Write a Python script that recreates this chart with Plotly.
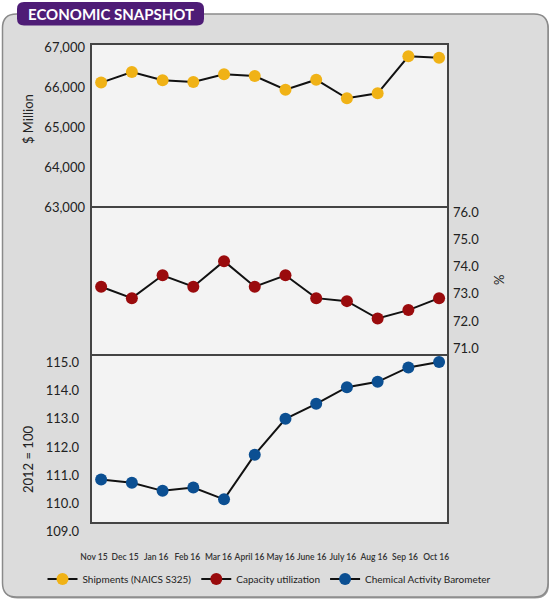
import plotly.graph_objects as go

W, H = 550, 601

months = ["Nov 15", "Dec 15", "Jan 16", "Feb 16", "Mar 16", "April 16",
          "May 16", "June 16", "July 16", "Aug 16", "Sep 16", "Oct 16"]
shipments = [66110, 66375, 66167, 66125, 66317, 66275,
             65933, 66183, 65717, 65842, 66767, 66733]
capacity = [73.26, 72.84, 73.68, 73.26, 74.20, 73.26,
            73.68, 72.84, 72.73, 72.09, 72.40, 72.84]
cab = [110.85, 110.74, 110.45, 110.57, 110.15, 111.73,
       113.00, 113.53, 114.12, 114.31, 114.82, 115.01]

ship_ticks = [63000, 64000, 65000, 66000, 67000]
cap_ticks = [71, 72, 73, 74, 75, 76]
cab_ticks = [109, 110, 111, 112, 113, 114, 115]

FONT = "Lato, 'Open Sans', sans-serif"


def px(x):
    return x / W


def py(y):
    return 1 - y / H


def rounded_path(x0, y0, x1, y1, r):
    pts = [
        f"M{px(x0 + r)},{py(y0)}",
        f"L{px(x1 - r)},{py(y0)}",
        f"Q{px(x1)},{py(y0)} {px(x1)},{py(y0 + r)}",
        f"L{px(x1)},{py(y1 - r)}",
        f"Q{px(x1)},{py(y1)} {px(x1 - r)},{py(y1)}",
        f"L{px(x0 + r)},{py(y1)}",
        f"Q{px(x0)},{py(y1)} {px(x0)},{py(y1 - r)}",
        f"L{px(x0)},{py(y0 + r)}",
        f"Q{px(x0)},{py(y0)} {px(x0 + r)},{py(y0)}",
        "Z",
    ]
    return " ".join(pts)


fig = go.Figure()

fig.add_trace(go.Scatter(
    x=months, y=shipments, mode="lines+markers", name="Shipments (NAICS S325)",
    line=dict(color="#111111", width=2),
    marker=dict(color="#F0B216", size=12, line=dict(width=0)),
    xaxis="x", yaxis="y", cliponaxis=False))
fig.add_trace(go.Scatter(
    x=months, y=capacity, mode="lines+markers", name="Capacity utilization",
    line=dict(color="#111111", width=2),
    marker=dict(color="#9A0B0D", size=12, line=dict(width=0)),
    xaxis="x", yaxis="y2", cliponaxis=False))
fig.add_trace(go.Scatter(
    x=months, y=cab, mode="lines+markers", name="Chemical Activity Barometer",
    line=dict(color="#111111", width=2),
    marker=dict(color="#0B4F92", size=12, line=dict(width=0)),
    xaxis="x", yaxis="y3", cliponaxis=False))
# carrier trace for the month-label axis
fig.add_trace(go.Scatter(
    x=months, y=[None] * len(months), mode="markers", showlegend=False,
    hoverinfo="skip", xaxis="x2", yaxis="y3"))

XL, XR = 91, 448
TOP, MID1, MID2, BOT = 44, 207, 355, 523

shapes = [
    # soft shadow of the outer box
    dict(type="path", path=rounded_path(3.5, 15.5, 549, 598.5, 14), xref="paper", yref="paper",
         fillcolor="#9A9A9A", line=dict(width=0), layer="below"),
    # outer rounded box
    dict(type="path", path=rounded_path(2.5, 14, 548, 597, 14), xref="paper", yref="paper",
         fillcolor="#DCDCDC", line=dict(color="#8A8A8A", width=1.5), layer="below"),
    # panel fill + frames
    dict(type="rect", xref="paper", yref="paper", x0=px(XL), x1=px(XR), y0=py(BOT), y1=py(TOP),
         fillcolor="#F3F3F3", line=dict(color="#444444", width=2), layer="below"),
    dict(type="line", xref="paper", yref="paper", x0=px(XL), x1=px(XR), y0=py(MID1), y1=py(MID1),
         line=dict(color="#444444", width=2), layer="below"),
    dict(type="line", xref="paper", yref="paper", x0=px(XL), x1=px(XR), y0=py(MID2), y1=py(MID2),
         line=dict(color="#444444", width=2), layer="below"),
    # header tab
    dict(type="path", path=rounded_path(17, 2, 204, 25.5, 7), xref="paper", yref="paper",
         fillcolor="#4E1C76", line=dict(width=0), layer="above"),
]

annotations = [
    dict(text="<b>ECONOMIC SNAPSHOT</b>", x=px(110.5), y=py(14), xref="paper", yref="paper",
         showarrow=False, font=dict(family=FONT, size=15, color="white"),
         xanchor="center", yanchor="middle"),
    dict(text="$ Million", x=px(28), y=py(119), xref="paper", yref="paper", showarrow=False,
         textangle=-90, font=dict(family=FONT, size=13, color="#222222"),
         xanchor="center", yanchor="middle"),
    dict(text="2012 = 100", x=px(28), y=py(460), xref="paper", yref="paper", showarrow=False,
         textangle=-90, font=dict(family=FONT, size=13, color="#222222"),
         xanchor="center", yanchor="middle"),
    dict(text="%", x=px(499), y=py(280), xref="paper", yref="paper", showarrow=False,
         textangle=-90, font=dict(family=FONT, size=13, color="#222222"),
         xanchor="center", yanchor="middle"),
]

tickfont = dict(family=FONT, size=13, color="#222222")
common_y = dict(showgrid=False, zeroline=False, showline=False, ticks="", anchor="x",
                tickfont=tickfont, fixedrange=True, automargin=False)

fig.update_layout(
    width=W, height=H,
    margin=dict(l=0, r=0, t=0, b=0, pad=0, autoexpand=False),
    paper_bgcolor="white", plot_bgcolor="rgba(0,0,0,0)",
    font=dict(family=FONT, color="#222222"),
    xaxis=dict(domain=[px(XL), px(XR)], range=[-0.33, 11.29], type="category",
               showticklabels=False, showgrid=False, zeroline=False, showline=False,
               ticks="", anchor="y3", fixedrange=True, automargin=False),
    xaxis2=dict(overlaying="x", range=[-0.096, 11.38], type="category",
                anchor="free", position=py(550), side="bottom",
                showgrid=False, zeroline=False, showline=False, ticks="",
                tickmode="array", tickvals=months, ticktext=months, tickangle=0,
                tickfont=dict(family=FONT, size=8.5, color="#333333", weight=600),
                fixedrange=True, automargin=False),
    yaxis=dict(domain=[py(MID1), py(TOP)], range=[63000, 67075], side="left",
               tickvals=ship_ticks, tickformat=",", ticklabelstandoff=5, **common_y),
    yaxis2=dict(domain=[py(MID2), py(MID1)], range=[70.75, 76.19], side="right",
                tickvals=cap_ticks, tickformat=".1f", ticklabelstandoff=4, **common_y),
    yaxis3=dict(domain=[py(540), py(MID2)], range=[108.71, 115.26], side="left",
                tickvals=cab_ticks, tickformat=".1f", ticklabelstandoff=11, **common_y),
    legend=dict(orientation="h", x=0.49, xanchor="center", y=py(579), yanchor="middle",
                font=dict(family=FONT, size=10, color="#222222"),
                bgcolor="rgba(0,0,0,0)", itemwidth=30, tracegroupgap=0),
    shapes=shapes,
    annotations=annotations,
    showlegend=True,
)

fig.write_html(
    "out.html",
    config={"displayModeBar": False},
    post_script="document.body.style.margin='0';document.body.style.padding='0';",
)
